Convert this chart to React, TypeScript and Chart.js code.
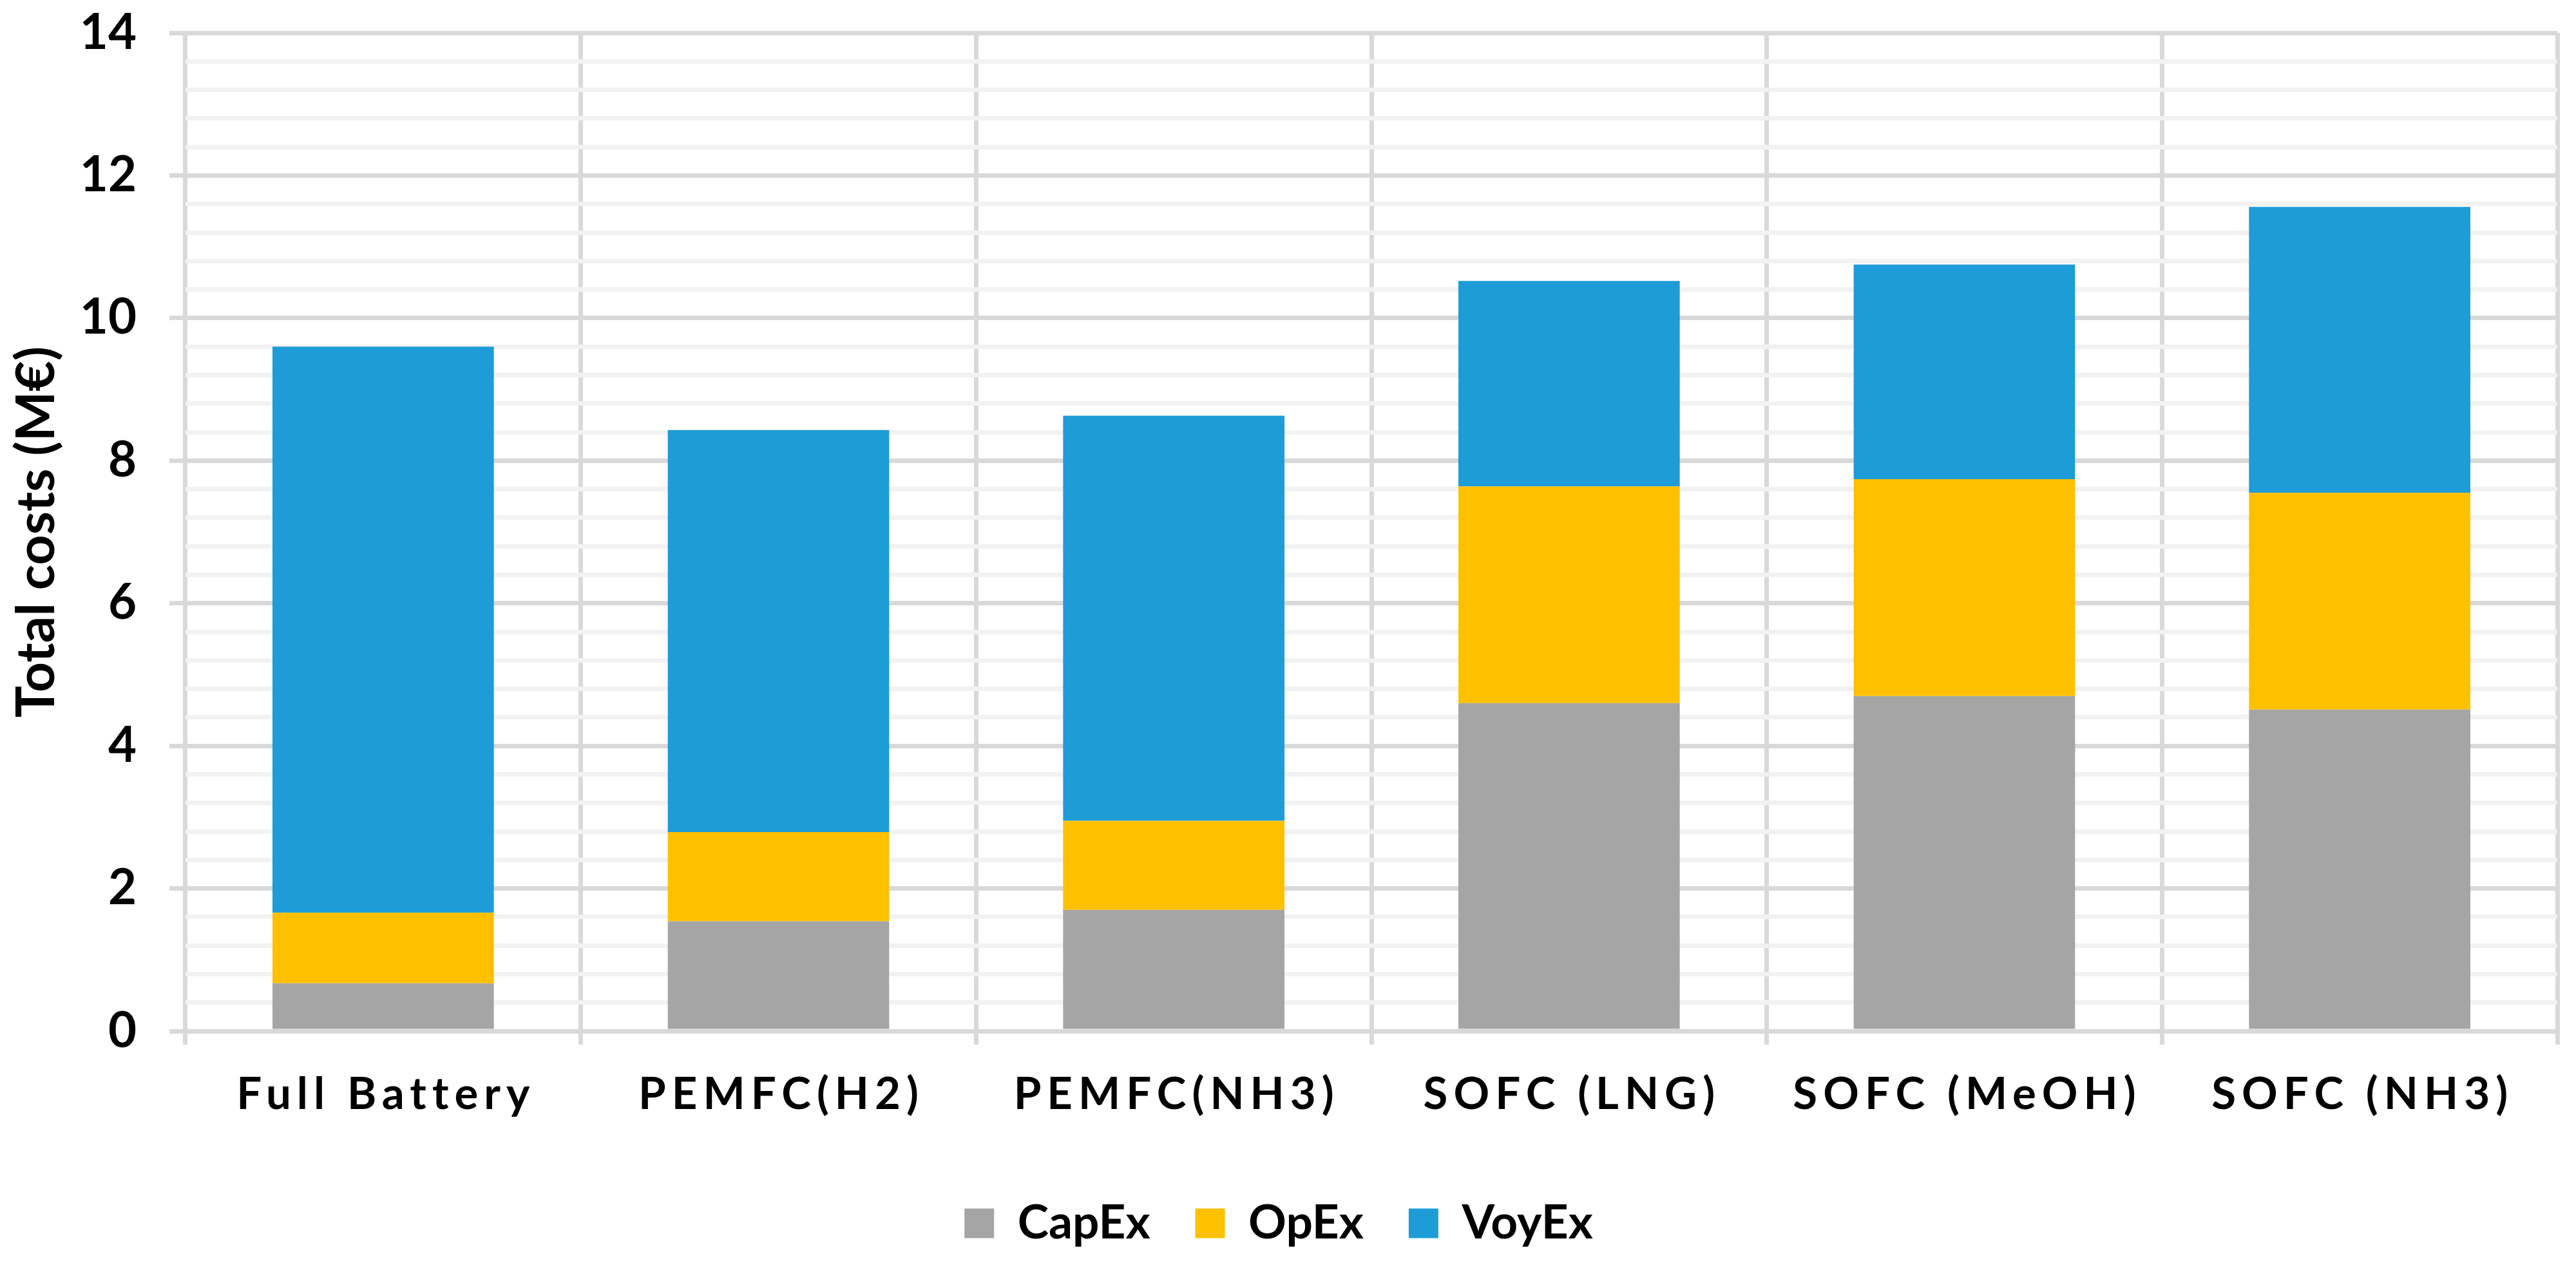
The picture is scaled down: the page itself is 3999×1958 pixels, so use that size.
import React, { useEffect, useRef } from "react";
import { Chart, registerables } from "chart.js";

Chart.register(...registerables);

const categories = ["Full Battery", "PEMFC(H2)", "PEMFC(NH3)", "SOFC (LNG)", "SOFC (MeOH)", "SOFC (NH3)"];
const capEx = [0.67, 1.54, 1.7, 4.6, 4.7, 4.51];
const opEx = [0.99, 1.25, 1.25, 3.04, 3.04, 3.04];
const voyEx = [7.94, 5.64, 5.68, 2.88, 3.01, 4.01];
const seriesNames = ["CapEx", "OpEx", "VoyEx"];
const yTitle = "Total costs (M€)";
const yMin = 0;
const yMax = 14;
const yMinorStep = 0.4;
const yMajorStep = 2;

const COLORS = ["#a5a5a5", "#ffc000", "#1d9cd8"];
const MAJOR = "#d9d9d9";
const MINOR = "#f2f2f2";
const LEGEND_PAD = 70;

const isMajor = (v: number) => Math.abs(v / yMajorStep - Math.round(v / yMajorStep)) < 1e-6;

const xLabelPlugin = {
  id: "spacedXLabels",
  afterDraw(chart: any) {
    const ctx = chart.ctx as CanvasRenderingContext2D;
    const xs = chart.scales.x;
    ctx.save();
    ctx.font = "bold 69px Lato";
    ctx.fillStyle = "#000000";
    ctx.textAlign = "center";
    ctx.textBaseline = "alphabetic";
    (ctx as any).letterSpacing = "9px";
    categories.forEach((c, i) => {
      const x = xs.getPixelForValue(i);
      ctx.fillText(c, x + 4.5, chart.chartArea.bottom + 121);
    });
    ctx.restore();
  },
};

export default function App() {
  const ref = useRef<HTMLCanvasElement | null>(null);

  useEffect(() => {
    document.body.style.margin = "0";
    if (!ref.current) return;
    Chart.defaults.font.family = "Lato";
    Chart.defaults.color = "#000000";
    const chart = new Chart(ref.current, {
      type: "bar",
      data: {
        labels: categories,
        datasets: [
          { label: seriesNames[0], data: capEx, backgroundColor: COLORS[0], borderWidth: 0 },
          { label: seriesNames[1], data: opEx, backgroundColor: COLORS[1], borderWidth: 0 },
          { label: seriesNames[2], data: voyEx, backgroundColor: COLORS[2], borderWidth: 0 },
        ],
      },
      options: {
        responsive: false,
        maintainAspectRatio: false,
        devicePixelRatio: 1,
        animation: false,
        layout: { padding: { left: 0, right: 29, top: 51, bottom: 12 } },
        datasets: { bar: { barPercentage: 0.56, categoryPercentage: 1.0 } },
        plugins: {
          tooltip: { enabled: false },
          legend: {
            position: "bottom",
            labels: {
              boxWidth: 46,
              boxHeight: 46,
              padding: LEGEND_PAD,
              color: "#000000",
              font: { family: "Lato", size: 73, weight: "bold" },
            },
          },
        },
        scales: {
          x: {
            stacked: true,
            offset: true,
            border: { display: false },
            grid: {
              offset: true,
              color: MAJOR,
              lineWidth: 7,
              drawTicks: true,
              tickLength: 21,
              tickColor: MAJOR,
            },
            ticks: { display: false },
            afterFit: (scale: any) => {
              scale.height = 262 - LEGEND_PAD;
            },
          },
          y: {
            stacked: true,
            min: yMin,
            max: yMax,
            border: { display: false },
            grid: {
              color: (ctx: any) => (ctx.tick && isMajor(ctx.tick.value) ? MAJOR : MINOR),
              tickColor: (ctx: any) => (ctx.tick && isMajor(ctx.tick.value) ? MAJOR : "rgba(0,0,0,0)"),
              lineWidth: 7,
              tickLength: 25,
            },
            ticks: {
              stepSize: yMinorStep,
              autoSkip: false,
              padding: 51,
              color: "#000000",
              font: { family: "Lato", size: 76, weight: "bold" },
              callback: (v: any) => (isMajor(Number(v)) ? String(Math.round(Number(v))) : ""),
            },
            title: {
              display: true,
              text: yTitle,
              color: "#000000",
              padding: { top: 8, bottom: 0 },
              font: { family: "Lato", size: 82, weight: "bold" },
            },
            afterFit: (scale: any) => {
              scale.width = 288;
              scale.paddingTop = 0;
              scale.paddingBottom = 0;
            },
          },
        },
      },
      plugins: [xLabelPlugin],
    });
    return () => chart.destroy();
  }, []);

  return (
    <div style={{ position: "fixed", left: 0, top: 0, width: "3999px", height: "1958px", background: "#ffffff" }}>
      <canvas ref={ref} width={3999} height={1958} style={{ width: "3999px", height: "1958px", display: "block" }} />
    </div>
  );
}
